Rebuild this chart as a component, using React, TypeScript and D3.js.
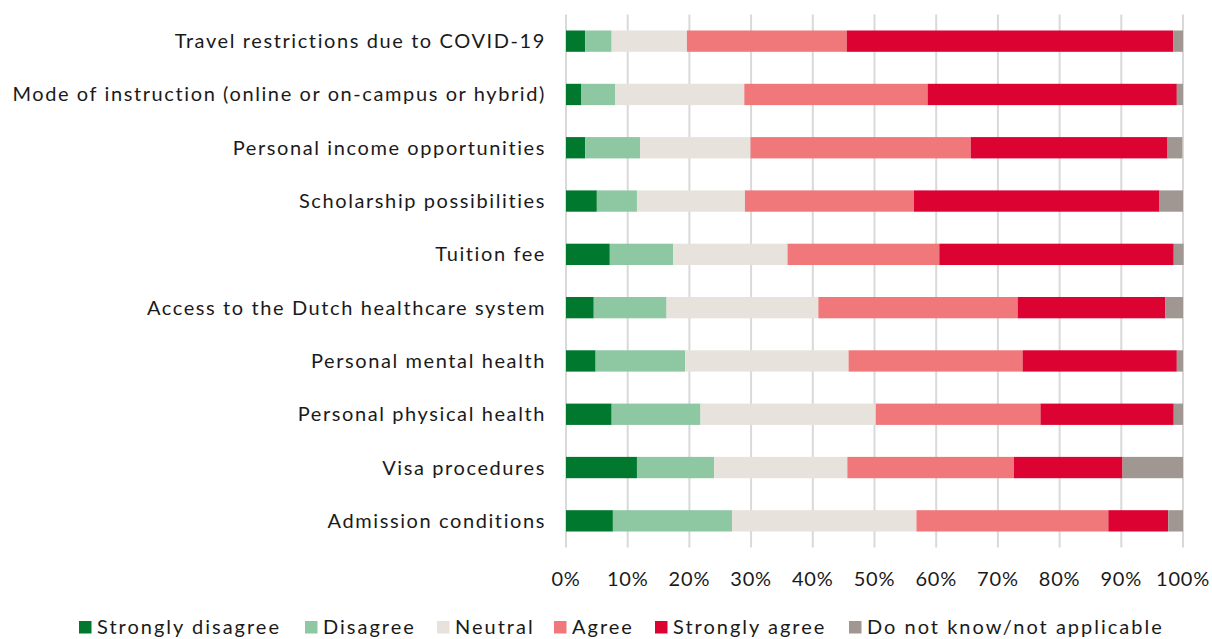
// @ts-nocheck
import React from 'react'
import * as d3 from 'd3'

const categories = [
  'Travel restrictions due to COVID-19',
  'Mode of instruction (online or on-campus or hybrid)',
  'Personal income opportunities',
  'Scholarship possibilities',
  'Tuition fee',
  'Access to the Dutch healthcare system',
  'Personal mental health',
  'Personal physical health',
  'Visa procedures',
  'Admission conditions',
]

const seriesNames = ['Strongly disagree', 'Disagree', 'Neutral', 'Agree', 'Strongly agree', 'Do not know/not applicable']
const seriesColors = ['#00792f', '#8dc8a2', '#e8e2dc', '#f0787b', '#dc0333', '#a09793']

const stronglyDisagree = [3.1, 2.5, 3.1, 5.0, 7.1, 4.5, 4.8, 7.4, 11.5, 7.6]
const disagree = [4.3, 5.5, 8.9, 6.5, 10.3, 11.8, 14.5, 14.4, 12.5, 19.3]
const neutral = [12.2, 20.9, 17.9, 17.5, 18.5, 24.6, 26.5, 28.4, 21.6, 29.9]
const agree = [25.9, 29.7, 35.7, 27.4, 24.6, 32.3, 28.2, 26.7, 27.0, 31.1]
const stronglyAgree = [52.9, 40.4, 31.9, 39.8, 38.0, 23.9, 25.0, 21.6, 17.6, 9.7]
const dontKnow = [1.6, 1.0, 2.4, 3.8, 1.6, 2.9, 1.0, 1.5, 9.8, 2.4]

const ticks = [0, 10, 20, 30, 40, 50, 60, 70, 80, 90, 100]

const W = 1212
const H = 639
const left = 566
const right = 1183
const top = 14.5
const bottom = 547.5
const font = 'Lato, sans-serif'

const App = () => {
  const rows = categories.map((c, i) => ({
    cat: c,
    s0: stronglyDisagree[i],
    s1: disagree[i],
    s2: neutral[i],
    s3: agree[i],
    s4: stronglyAgree[i],
    s5: dontKnow[i],
  }))
  const keys = ['s0', 's1', 's2', 's3', 's4', 's5']
  const stacked = d3.stack().keys(keys)(rows)

  const x = d3.scaleLinear().domain([0, 100]).range([left, right])
  const y = d3.scaleBand().domain(categories).range([top, bottom]).paddingInner(0.6).paddingOuter(0.3)

  // legend square positions
  const legendX = [79, 305, 437, 554, 655, 849]

  return (
    <svg width={W} height={H} style={{ position: 'absolute', left: 0, top: 0 }} fontFamily={font}>
      <rect width={W} height={H} fill="#fff" />
      {ticks.map((t) => (
        <line key={t} x1={x(t)} x2={x(t)} y1={top} y2={bottom} stroke="#d9d9d9" strokeWidth={2} />
      ))}
      {stacked.map((s, si) => (
        <g key={si} fill={seriesColors[si]}>
          {s.map((d, i) => (
            <rect key={i} x={x(d[0])} y={y(d.data.cat)} width={x(d[1]) - x(d[0])} height={y.bandwidth()} />
          ))}
        </g>
      ))}
      {categories.map((c) => (
        <text
          key={c}
          x={546}
          y={y(c) + y.bandwidth() / 2}
          dy="0.35em"
          textAnchor="end"
          fontSize={20}
          letterSpacing={1.6}
          fill="#1a1a1a"
        >
          {c}
        </text>
      ))}
      {ticks.map((t) => (
        <text key={t} x={x(t)} y={586} textAnchor="middle" fontSize={20} letterSpacing={0.8} fill="#1a1a1a">
          {t + '%'}
        </text>
      ))}
      {seriesNames.map((n, i) => (
        <g key={n} transform={`translate(${legendX[i]}, 621)`}>
          <rect width={12.5} height={12.5} fill={seriesColors[i]} />
          <text x={18} y={13} fontSize={20} letterSpacing={2} fill="#1a1a1a">
            {n}
          </text>
        </g>
      ))}
    </svg>
  )
}

export default App
